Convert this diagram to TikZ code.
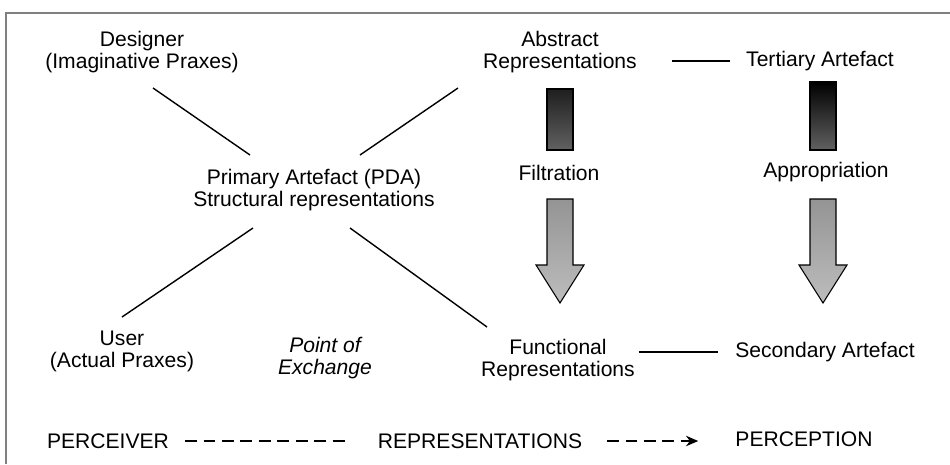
\documentclass[tikz,border=0pt]{standalone}
\usepackage{fontspec}
\setmainfont{Liberation Sans}
\usetikzlibrary{calc,arrows.meta}
\begin{document}
\begin{tikzpicture}[x=0.02cm,y=-0.02cm,
    txt/.style={align=center,inner sep=2pt,font=\fontsize{12}{12.5}\selectfont},
    lnk/.style={line width=0.8pt},
    dsh/.style={line width=0.8pt,dash pattern=on 6.8pt off 3.7pt}]
    \useasboundingbox (0,0) rectangle (950,464);
    \draw [gray,line width=0.9pt] (6,464) -- (6,13) -- (950,13);
    % text nodes
    \node [txt] (designer) at (142,52) {Designer\\(Imaginative Praxes)};
    \node [txt] (abstract) at (560,52) {Abstract\\Representations};
    \node [txt] (tertiary) at (820,61) {Tertiary Artefact};
    \node [txt] (primary) at (314,190) {Primary Artefact (PDA)\\Structural representations};
    \node [txt] (filtration) at (559,173) {Filtration};
    \node [txt] (appropriation) at (826,172) {Appropriation};
    \node [txt] (user) at (122,351) {User\\(Actual Praxes)};
    \node [txt,font=\fontsize{12}{12.5}\selectfont\itshape] (exchange) at (325,358) {Point of\\Exchange};
    \node [txt] (functional) at (558,360) {Functional\\Representations};
    \node [txt] (secondary) at (825,352) {Secondary Artefact};
    \node [txt] (perceiver) at (108,441) {PERCEIVER};
    \node [txt] (representations) at (480,441) {REPRESENTATIONS};
    \node [txt] (perception) at (804,439) {PERCEPTION};
    % the cross
    \draw [lnk] ($(designer)+(11,36)$) -- ($(primary)+(-64,-35)$);
    \draw [lnk] ($(abstract)+(-102,36)$) -- ($(primary)+(46,-35)$);
    \draw [lnk] ($(primary)+(-61,38)$) -- ($(user)+(0,-34)$);
    \draw [lnk] ($(primary)+(36,38)$) -- ($(functional)+(-71,-33)$);
    \draw [lnk, shorten <=18pt, shorten >=7pt] (abstract.east |- tertiary.west) -- (tertiary.west);
    \draw [lnk, shorten >=7.5pt] (functional.east |- secondary.west) -- (secondary.west);
    % filtration and appropriation arrows
    \foreach \cx/\top/\dark in {560/89/black!88, 823/82/black} {
        \shade [top color=\dark, bottom color=black!62, draw=black, line width=0.6pt]
            (\cx-13,\top) rectangle (\cx+13,150);
        \shade [top color=black!42, bottom color=black!26, draw=black, line width=0.6pt]
            (\cx-13,199) -- (\cx+13,199) -- (\cx+13,265) -- (\cx+24,265)
            -- (\cx,303) -- (\cx-24,265) -- (\cx-13,265) -- cycle;
    }
    % bottom row
    \draw [dsh, shorten <=7pt, shorten >=14pt] (perceiver) -- (representations);
    \draw [dsh, -{Stealth[length=7pt,width=6pt]}, shorten <=12pt, shorten >=19pt] (representations.east) -- (perception.west |- representations.east);
\end{tikzpicture}
\end{document}
